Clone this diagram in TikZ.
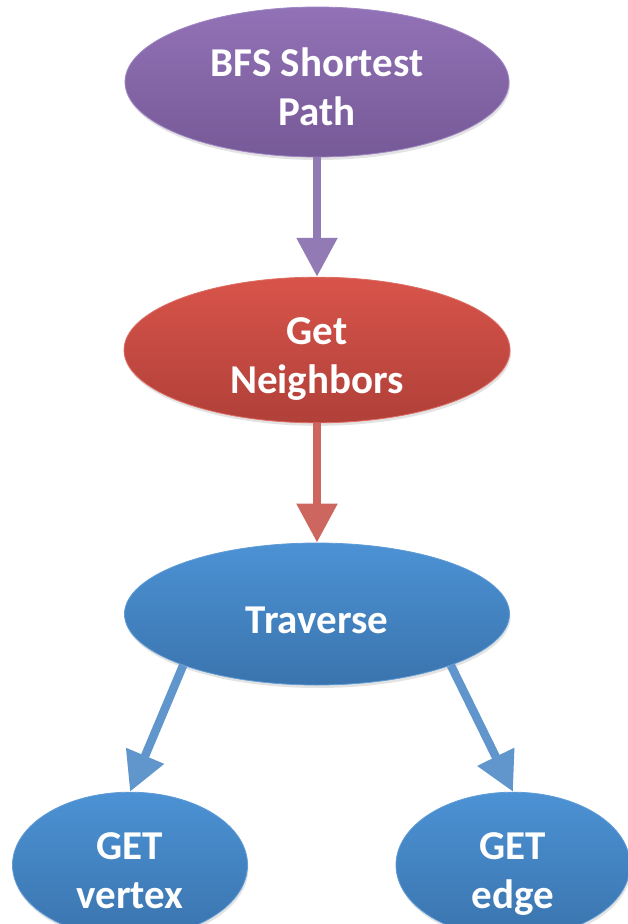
\documentclass[tikz,border=0pt]{standalone}
\usepackage{fontspec}
\setmainfont{Carlito}
\usetikzlibrary{%
	arrows.meta,%
	shapes.geometric,%
	shadows
}
\definecolor{purple-top}{RGB}{146,114,182}
\definecolor{purple-bottom}{RGB}{118,89,151}
\definecolor{purple-rim}{RGB}{160,134,196}
\definecolor{purple-arrow}{RGB}{146,122,180}
\definecolor{red-top}{RGB}{216,84,74}
\definecolor{red-bottom}{RGB}{176,64,57}
\definecolor{red-rim}{RGB}{222,110,100}
\definecolor{red-arrow}{RGB}{206,102,96}
\definecolor{blue-top}{RGB}{76,146,212}
\definecolor{blue-bottom}{RGB}{58,116,174}
\definecolor{blue-rim}{RGB}{96,156,214}
\definecolor{blue-arrow}{RGB}{96,150,204}
% struts so every label sits the same way in its ellipse
\newcommand{\hiStrut}{\rule{0pt}{46pt}}
\newcommand{\loStrut}{\rule[-8pt]{0pt}{8pt}}

\begin{document}
\begin{tikzpicture}[x=1pt,y=-1pt,
	blob/.style={ellipse,inner sep=0pt,text=white,align=center,line width=0.8pt,
		font=\fontsize{41}{49}\selectfont\bfseries,
		drop shadow={opacity=0.22,shadow xshift=1pt,shadow yshift=-3pt}},
	link/.style={line width=8.5pt,-{Triangle[width=39pt,length=39pt]}}
	]
	\useasboundingbox (0,0) rectangle (627,924);

	% Ellipses
	\node[blob,top color=purple-top,bottom color=purple-bottom,draw=purple-rim,
		minimum width=384pt,minimum height=150pt] (bfs) at (317,82) {\hiStrut BFS Shortest\\Path\loStrut};
	\node[blob,top color=red-top,bottom color=red-bottom,draw=red-rim,
		minimum width=386pt,minimum height=144pt] (nbr) at (317,350) {\hiStrut Get\\Neighbors\loStrut};
	\node[blob,top color=blue-top,bottom color=blue-bottom,draw=blue-rim,
		minimum width=385pt,minimum height=142pt] (trav) at (317,614) {\hiStrut Traverse\loStrut};
	\node[blob,top color=blue-top,bottom color=blue-bottom,draw=blue-rim,
		minimum width=235pt,minimum height=110pt] (vtx) at (130,865) {\hiStrut GET\\vertex\loStrut};
	\node[blob,top color=blue-top,bottom color=blue-bottom,draw=blue-rim,
		minimum width=234pt,minimum height=110pt] (edg) at (513,865) {\hiStrut GET\\edge\loStrut};

	% Arrows
	\draw[link,purple-arrow] (bfs) -- (nbr);
	\draw[link,red-arrow] (nbr) -- (trav);
	\draw[link,blue-arrow] (trav.201) -- (vtx.north);
	\draw[link,blue-arrow] (trav.339) -- (edg.north);
\end{tikzpicture}
\end{document}
